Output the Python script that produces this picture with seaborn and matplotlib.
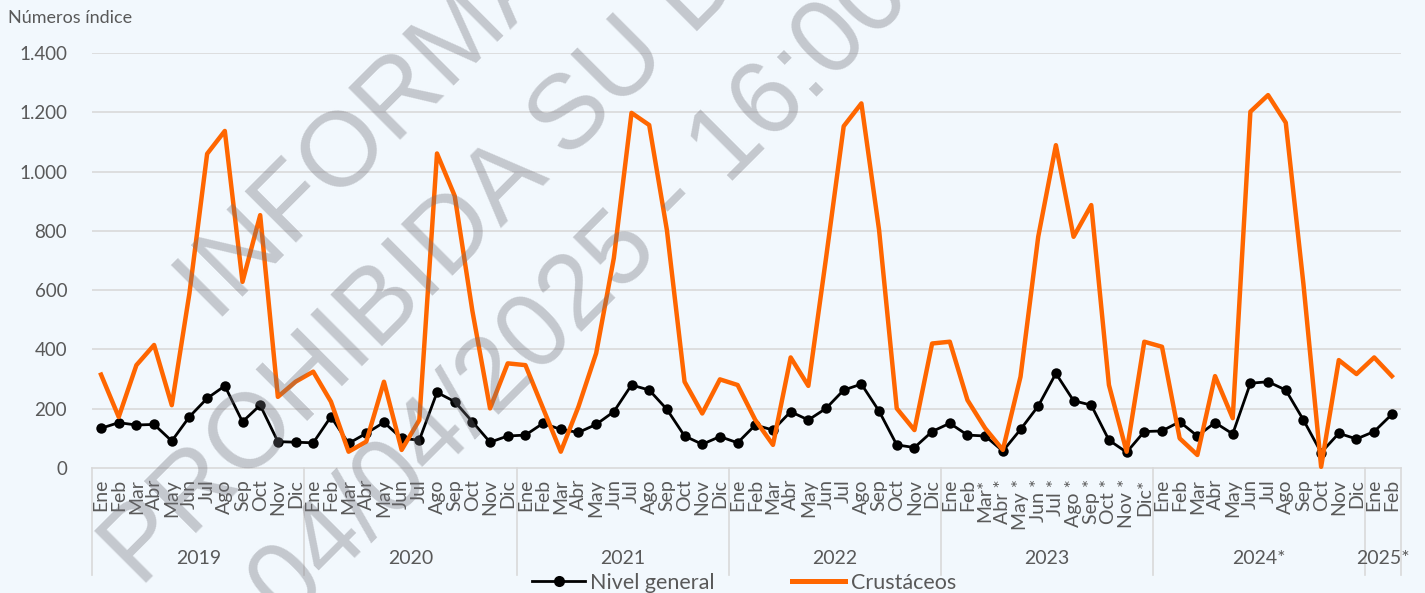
import numpy as np
import pandas as pd
import matplotlib
matplotlib.use("Agg")
import matplotlib.pyplot as plt
from matplotlib.lines import Line2D
import seaborn as sns

# ---------------- data ----------------
years = ["2019", "2020", "2021", "2022", "2023", "2024*", "2025*"]
year_counts = [12, 12, 12, 12, 12, 12, 2]

month_labels = (
    ["Ene", "Feb", "Mar", "Abr", "May", "Jun", "Jul", "Ago", "Sep", "Oct", "Nov", "Dic"] * 4
    + ["Ene", "Feb", "Mar*", "Abr *", "May *", "Jun *", "Jul *", "Ago *", "Sep *", "Oct *", "Nov *", "Dic*"]
    + ["Ene", "Feb", "Mar", "Abr", "May", "Jun", "Jul", "Ago", "Sep", "Oct", "Nov", "Dic"]
    + ["Ene", "Feb"]
)

nivel_general = [
    134, 153, 145, 147, 91, 173, 235, 277, 156, 212, 89, 87,
    85, 173, 83, 117, 154, 100, 94, 255, 224, 156, 87, 108,
    111, 151, 130, 120, 147, 190, 280, 263, 198, 108, 80, 106,
    85, 145, 128, 190, 162, 201, 263, 283, 192, 78, 69, 123,
    151, 111, 108, 57, 130, 209, 319, 227, 212, 94, 53, 123,
    125, 156, 108, 153, 115, 286, 291, 263, 162, 52, 117, 98,
    123, 181,
]

crustaceos = [
    315, 172, 347, 415, 212, 590, 1060, 1137, 628, 853, 240, 291,
    325, 224, 55, 89, 291, 61, 162, 1061, 918, 530, 201, 353,
    347, 201, 55, 207, 387, 708, 1198, 1157, 803, 291, 184, 299,
    280, 162, 78, 373, 277, 708, 1153, 1230, 803, 201, 128, 420,
    426, 229, 134, 61, 308, 780, 1089, 780, 887, 280, 55, 426,
    409, 100, 44, 310, 168, 1202, 1258, 1165, 620, 4, 364, 317,
    373, 310,
]

y_ticks = [0, 200, 400, 600, 800, 1000, 1200, 1400]
y_tick_labels = ["0", "200", "400", "600", "800", "1.000", "1.200", "1.400"]

watermark_lines = ["INFORMACIÓN EMBARGADA", "PROHIBIDA SU DIFUSIÓN", "04/04/2025 - 16:00"]

# ---------------- style ----------------
BG = "#F2F8FD"
TXT = "#595959"
GRID = "#D9D9D9"
ORANGE = "#FF6600"

plt.rcParams["font.family"] = ["Lato", "DejaVu Sans"]

W, H = 1425, 593
fig = plt.figure(figsize=(W / 100, H / 100), dpi=100, facecolor=BG)
ax_left, ax_right, ax_top, ax_bottom = 92.2, 1400.7, 53, 468
ax = fig.add_axes([ax_left / W, (H - ax_bottom) / H,
                   (ax_right - ax_left) / W, (ax_bottom - ax_top) / H])
ax.set_facecolor(BG)

x = np.arange(len(month_labels))
df = pd.DataFrame({"idx": x, "Nivel general": nivel_general, "Crustáceos": crustaceos})

sns.lineplot(data=df, x="idx", y="Nivel general", ax=ax, color="black", lw=2.0,
             marker="o", markersize=7.5, markeredgewidth=0, zorder=3,
             clip_on=False, legend=False)
sns.lineplot(data=df, x="idx", y="Crustáceos", ax=ax, color=ORANGE, lw=3.2,
             zorder=4, clip_on=False, legend=False)

ax.set_xlim(-0.5, len(month_labels) - 0.5)
ax.set_ylim(0, 1400)
for s in ax.spines.values():
    s.set_visible(False)

for v in y_ticks[1:]:
    ax.axhline(v, color=GRID, lw=1.2, zorder=1)
ax.axhline(0, color=GRID, lw=1.2, zorder=1, clip_on=False)

ax.set_yticks(y_ticks)
ax.set_yticklabels(y_tick_labels, fontsize=13.5, color=TXT)
ax.tick_params(axis="y", length=0, pad=18)

ax.set_xticks(x)
ax.set_xticklabels(month_labels, rotation=90, va="top", ha="center",
                   fontsize=14, color=TXT)
ax.tick_params(axis="x", length=0, pad=8)
ax.set_xlabel("")
ax.set_ylabel("")

# year separators and labels
axis_h = ax_bottom - ax_top
sep_bottom = -(575 - ax_bottom) / axis_h
year_y = -(558 - ax_bottom) / axis_h
trans = ax.get_xaxis_transform()
start = 0
bounds = [-0.5]
for yr, n in zip(years, year_counts):
    center = start + (n - 1) / 2
    ax.text(center, year_y, yr, transform=trans, ha="center", va="center",
            fontsize=14, color=TXT)
    start += n
    bounds.append(start - 0.5)
for b in bounds:
    ax.plot([b, b], [0, sep_bottom], transform=trans, color=GRID, lw=1.2,
            clip_on=False, zorder=1)

# y-axis title
fig.text(8 / W, 1 - 18 / H, "Números índice", ha="left", va="center",
         fontsize=13, color=TXT)

# legend
handles = [
    Line2D([], [], color="black", lw=2.0, marker="o", markersize=8, markeredgewidth=0),
    Line2D([], [], color=ORANGE, lw=3.6),
]
fig.legend(handles, ["Nivel general", "Crustáceos"], loc="center",
           bbox_to_anchor=(744 / W, 10 / H), ncol=2, frameon=False, fontsize=15.5,
           handlelength=2.45, columnspacing=3.6, handletextpad=0.25,
           labelcolor=TXT, numpoints=1, borderpad=0, borderaxespad=0)

# watermark
wm_starts = [(216, 323), (140, 588), (288, 625)]
for txt, (px, py) in zip(watermark_lines, wm_starts):
    fig.text(px / W, 1 - py / H, txt, rotation=45, rotation_mode="anchor",
             ha="left", va="baseline", fontsize=76, family="Liberation Sans",
             color=(111 / 255, 111 / 255, 119 / 255), alpha=0.35, zorder=10)

fig.savefig("out.png", dpi=100, facecolor=BG)
